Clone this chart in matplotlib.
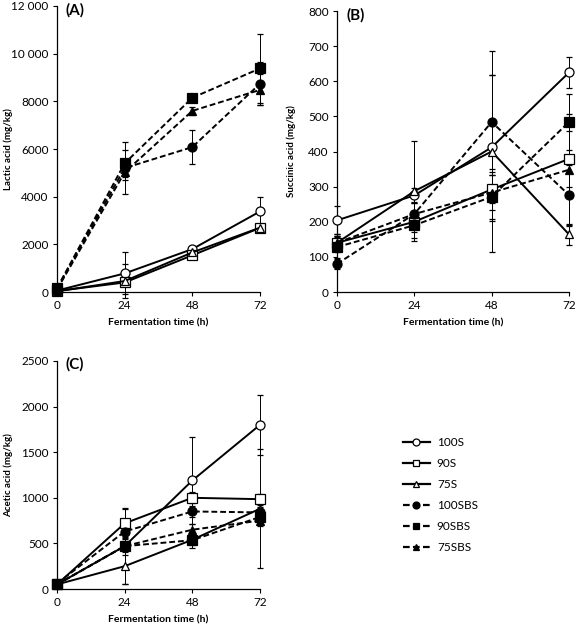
import numpy as np
import matplotlib
matplotlib.use("Agg")
import matplotlib.pyplot as plt
from matplotlib.lines import Line2D

plt.rcParams["font.family"] = ["Lato", "DejaVu Sans"]

# ------------------------------------------------------------
# Data
# ------------------------------------------------------------
time_h = [0, 24, 48, 72]
series = ["100S", "90S", "75S", "100SBS", "90SBS", "75SBS"]

lactic = {
    "100S":   [60, 780, 1800, 3380],
    "90S":    [40, 400, 1540, 2690],
    "75S":    [30, 460, 1660, 2700],
    "100SBS": [150, 5200, 6080, 8740],
    "90SBS":  [160, 5400, 8150, 9380],
    "75SBS":  [100, 5020, 7600, 8480],
}
lactic_err = {
    "100S":   [0, 880, 150, 600],
    "90S":    [0, 100, 80, 80],
    "75S":    [0, 700, 100, 80],
    "100SBS": [0, 1100, 720, 900],
    "90SBS":  [0, 560, 80, 1450],
    "75SBS":  [0, 300, 160, 650],
}

succinic = {
    "100S":   [204, 275, 412, 625],
    "90S":    [140, 200, 292, 379],
    "75S":    [140, 287, 400, 164],
    "100SBS": [80, 222, 484, 276],
    "90SBS":  [128, 190, 271, 484],
    "75SBS":  [140, 222, 283, 348],
}
succinic_err = {
    "100S":   [40, 20, 205, 43],
    "90S":    [20, 30, 40, 80],
    "75S":    [25, 142, 285, 30],
    "100SBS": [15, 30, 133, 85],
    "90SBS":  [30, 35, 70, 80],
    "75SBS":  [20, 30, 50, 160],
}

acetic = {
    "100S":   [50, 470, 1190, 1800],
    "90S":    [50, 720, 1000, 985],
    "75S":    [50, 250, 540, 880],
    "100SBS": [60, 630, 850, 840],
    "90SBS":  [50, 470, 535, 790],
    "75SBS":  [50, 470, 650, 750],
}
acetic_err = {
    "100S":   [10, 100, 475, 330],
    "90S":    [10, 160, 60, 60],
    "75S":    [10, 200, 60, 650],
    "100SBS": [10, 80, 60, 60],
    "90SBS":  [10, 420, 90, 40],
    "75SBS":  [10, 60, 60, 60],
}

styles = {
    "100S":   dict(marker="o", mfc="white", ls="-"),
    "90S":    dict(marker="s", mfc="white", ls="-"),
    "75S":    dict(marker="^", mfc="white", ls="-"),
    "100SBS": dict(marker="o", mfc="black", ls="--"),
    "90SBS":  dict(marker="s", mfc="black", ls="--"),
    "75SBS":  dict(marker="^", mfc="black", ls="--"),
}


def draw_panel(ax, values, errors, ymax, ystep, ticklabels, ylabel, tag, ylab_x):
    for name in series:
        st = styles[name]
        ax.errorbar(time_h, values[name], yerr=errors[name], color="black",
                    ecolor="black", elinewidth=0.7, capsize=2, capthick=0.7,
                    lw=1.4, ls=st["ls"], dashes=(3, 1.5) if st["ls"] == "--" else (None, None),
                    marker=st["marker"], ms=6.5 if st["marker"] != "^" else 6,
                    mfc=st["mfc"], mec="black", mew=0.9, clip_on=False, zorder=3)
    ax.set_xlim(0, 72)
    ax.set_ylim(0, ymax)
    ax.set_xticks(time_h)
    yt = np.arange(0, ymax + 1, ystep)
    ax.set_yticks(yt)
    ax.set_yticklabels(ticklabels)
    for side in ["top", "right"]:
        ax.spines[side].set_visible(False)
    ax.spines["left"].set_linewidth(0.9)
    ax.spines["bottom"].set_linewidth(0.9)
    ax.tick_params(axis="both", direction="out", length=3, width=0.8,
                   labelsize=8.5, pad=3)
    ax.set_xlabel("Fermentation time (h)", fontsize=7.5, fontweight="bold", labelpad=5)
    ax.set_ylabel(ylabel, fontsize=7, fontweight="bold")
    ax.yaxis.set_label_coords(ylab_x, 0.5)
    ax.text(0.04, 0.985, tag, transform=ax.transAxes, fontsize=11,
            fontweight="bold", va="center", ha="left")


W, H = 576, 626
fig = plt.figure(figsize=(W / 100, H / 100), dpi=100)


def axes_px(left, right, top, bottom):
    return fig.add_axes([left / W, 1 - bottom / H, (right - left) / W, (bottom - top) / H])


axA = axes_px(57, 260, 6, 292)
axB = axes_px(337, 569, 11, 292)
axC = axes_px(57, 260, 361, 589)

draw_panel(axA, lactic, lactic_err, 12000, 2000,
           ["0", "2000", "4000", "6000", "8000", "10 000", "12 000"],
           "Lactic acid (mg/kg)", "(A)", -0.215)
draw_panel(axB, succinic, succinic_err, 800, 100,
           [str(v) for v in range(0, 801, 100)],
           "Succinic acid (mg/kg)", "(B)", -0.175)
draw_panel(axC, acetic, acetic_err, 2500, 500,
           [str(v) for v in range(0, 2501, 500)],
           "Acetic acid (mg/kg)", "(C)", -0.215)

handles = []
for name in series:
    st = styles[name]
    handles.append(Line2D([], [], color="black", lw=1.6, ls=st["ls"],
                          dashes=(3, 1.5) if st["ls"] == "--" else (None, None),
                          marker=st["marker"], ms=5, mfc=st["mfc"],
                          mec="black", mew=0.9))
fig.legend(handles, series, loc="center left", bbox_to_anchor=(392 / W, 1 - 495 / H),
           frameon=False, fontsize=8.5, handlelength=2.3, labelspacing=0.85,
           handletextpad=0.6)

fig.savefig("out.png", dpi=100)
